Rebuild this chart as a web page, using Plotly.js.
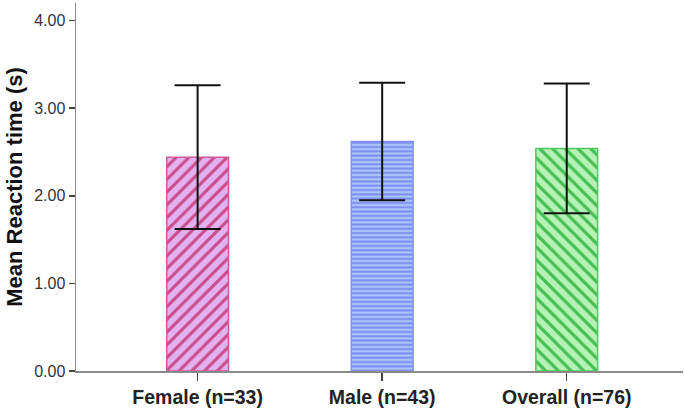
<!DOCTYPE html>
<html>
<head>
<meta charset="utf-8">
<script src="https://cdn.plot.ly/plotly-3.0.1.min.js"></script>
<style>html,body{margin:0;padding:0;background:#fff;}#chart{width:685px;height:412px;}</style>
</head>
<body>
<div id="chart"></div>
<script>
const categories = ["Female (n=33)", "Male (n=43)", "Overall (n=76)"];
const meanRT = [2.44, 2.62, 2.54];
const errRT = [0.82, 0.67, 0.74];
const yTickVals = [0, 1, 2, 3, 4];
const yTickText = ["0.00", "1.00", "2.00", "3.00", "4.00"];

const fillColors = ["#e2b2f0", "#a8c6f8", "#b6f2b6"];
const stripeColors = ["#cc4c8a", "#7d8af3", "#44bf52"];
const edgeColors = ["#d2589a", "#8090f5", "#52c862"];
const stripeShapes = ["/", "-", "\\"];
const stripeSizes = [9, 4.3, 9];
const stripeSolidity = [0.34, 0.45, 0.36];

const traces = categories.map((c, i) => ({
  type: "bar",
  x: [c],
  y: [meanRT[i]],
  width: 0.335,
  marker: {
    color: fillColors[i],
    line: { color: edgeColors[i], width: 1.5 },
    pattern: {
      shape: stripeShapes[i],
      fgcolor: stripeColors[i],
      bgcolor: fillColors[i],
      fillmode: "replace",
      size: stripeSizes[i],
      solidity: stripeSolidity[i]
    }
  },
  error_y: { type: "data", array: [errRT[i]], visible: true, color: "#111", thickness: 2, width: 23 },
  hoverinfo: "none"
}));

const layout = {
  width: 685, height: 412,
  margin: { l: 76, r: 2, t: 3, b: 41 },
  paper_bgcolor: "#fff", plot_bgcolor: "#fff",
  showlegend: false,
  barmode: "overlay",
  font: { family: "Liberation Sans, Arial, sans-serif", color: "#222" },
  xaxis: {
    type: "category",
    categoryarray: categories,
    range: [-0.659, 2.63],
    showline: true, linecolor: "#8a8a8a", linewidth: 1.5,
    ticks: "outside", ticklen: 8, tickcolor: "#444", tickwidth: 1.5,
    showgrid: false, zeroline: false,
    tickfont: { family: "Liberation Sans, Arial, sans-serif", size: 19.5, color: "#222", weight: "bold" }
  },
  yaxis: {
    range: [0, 4.2],
    tickvals: yTickVals, ticktext: yTickText,
    showline: true, linecolor: "#8a8a8a", linewidth: 1.5,
    ticks: "outside", ticklen: 6, tickcolor: "#444", tickwidth: 1.5,
    showgrid: false, zeroline: false,
    tickfont: { family: "Liberation Sans, Arial, sans-serif", size: 16, color: "#333" },
    title: { text: "Mean Reaction time (s)", standoff: 5, font: { family: "Liberation Sans, Arial, sans-serif", size: 22, color: "#111", weight: "bold" } }
  }
};

Plotly.newPlot("chart", traces, layout, { displayModeBar: false, staticPlot: true });
</script>
</body>
</html>
